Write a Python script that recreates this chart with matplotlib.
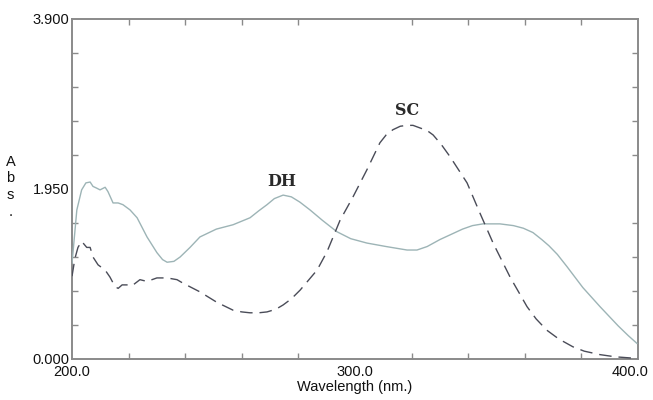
import matplotlib as mpl
mpl.use("Agg")
import matplotlib.pyplot as plt
from matplotlib.ticker import MultipleLocator, FixedLocator
from matplotlib.transforms import ScaledTranslation

# DH spectrum (solid)
DH_WL = [200.0, 201.7, 203.4, 204.9, 206.4, 207.4, 208.7, 209.9, 211.7, 212.7,
         214.5, 216.3, 218.0, 220.5, 223.0, 226.5, 230.0, 232.0, 233.6, 236.0,
         238.2, 241.7, 245.2, 251.0, 256.9, 262.9, 266.0, 268.9, 271.5, 274.6,
         277.5, 280.5, 284.1, 288.5, 293.6, 298.5, 304.2, 311.0, 318.4, 321.9,
         325.5, 330.0, 334.0, 338.0, 341.5, 345.2, 351.2, 356.0, 359.5, 362.9,
         366.0, 368.5, 371.5, 374.9, 380.5, 386.6, 393.0, 396.5, 399.6]
DH_ABS = [1.10, 1.71, 1.94, 2.02, 2.03, 1.98, 1.96, 1.94, 1.97, 1.92,
          1.79, 1.79, 1.77, 1.71, 1.62, 1.40, 1.22, 1.14, 1.11, 1.12,
          1.17, 1.28, 1.40, 1.49, 1.54, 1.62, 1.70, 1.77, 1.84, 1.88,
          1.86, 1.80, 1.71, 1.59, 1.46, 1.38, 1.33, 1.29, 1.25, 1.25,
          1.29, 1.37, 1.43, 1.49, 1.53, 1.55, 1.55, 1.53, 1.50, 1.45,
          1.37, 1.30, 1.20, 1.06, 0.82, 0.60, 0.38, 0.27, 0.18]

# SC spectrum (dashed)
SC_WL = [200.0, 201.0, 202.1, 203.4, 205.2, 206.4, 207.4, 209.2, 211.7, 213.4,
         215.2, 216.3, 217.7, 219.4, 221.2, 224.0, 226.5, 230.0, 233.6, 237.1,
         239.2, 245.2, 251.2, 256.9, 260.0, 262.9, 266.0, 268.9, 272.0, 274.6,
         277.5, 280.6, 286.6, 290.1, 294.7, 299.3, 304.2, 308.8, 311.0, 313.4,
         316.0, 318.4, 320.5, 323.0, 325.5, 327.6, 330.5, 333.6, 339.6, 344.2,
         348.8, 354.8, 360.8, 364.0, 367.8, 372.0, 377.0, 381.0, 386.6, 392.0,
         398.2, 400.0]
SC_ABS = [0.95, 1.15, 1.28, 1.35, 1.28, 1.28, 1.17, 1.08, 1.02, 0.94,
          0.83, 0.81, 0.85, 0.85, 0.84, 0.91, 0.89, 0.93, 0.93, 0.91,
          0.87, 0.77, 0.65, 0.56, 0.54, 0.53, 0.53, 0.54, 0.57, 0.62,
          0.69, 0.79, 1.02, 1.23, 1.59, 1.86, 2.17, 2.48, 2.57, 2.63,
          2.67, 2.68, 2.68, 2.65, 2.62, 2.57, 2.46, 2.32, 2.02, 1.67,
          1.33, 0.94, 0.60, 0.46, 0.33, 0.23, 0.14, 0.09, 0.05, 0.025,
          0.01, 0.01]

X_LABELS = [200.0, 300.0, 400.0]
Y_LABELS = [0.0, 1.95, 3.9]

AXIS = "#8a8a8a"
TEXT = "#111111"

fig = plt.figure(figsize=(6.53, 4.0), dpi=100)
ax = fig.add_axes([0.1103, 0.1025, 0.8667, 0.85])

ax.plot(DH_WL, DH_ABS, color="#9db4b6", linewidth=1.0, zorder=3)
ax.plot(SC_WL, SC_ABS, color="#4a4c58", linewidth=1.0, dashes=(9, 5), zorder=3)

ax.set_xlim(200, 400)
ax.set_ylim(0, 3.9)

for side in ax.spines.values():
    side.set_color(AXIS)
    side.set_linewidth(1.4)

ax.xaxis.set_major_locator(FixedLocator(X_LABELS))
ax.xaxis.set_minor_locator(MultipleLocator(20))
ax.yaxis.set_major_locator(FixedLocator(Y_LABELS))
ax.yaxis.set_minor_locator(MultipleLocator(0.39))
ax.set_xticklabels([f"{v:.1f}" for v in X_LABELS])
ax.set_yticklabels([f"{v:.3f}" for v in Y_LABELS])
ax.tick_params(which="both", direction="in", top=True, right=True,
               color=AXIS, width=1.0)
ax.tick_params(which="major", length=0, labelsize=10.5, labelcolor=TEXT)
ax.tick_params(axis="x", which="major", pad=4)
ax.tick_params(axis="y", which="major", pad=2)
ax.tick_params(which="minor", length=4)

for lab in ax.get_xticklabels() + ax.get_yticklabels():
    lab.set_family("Liberation Sans")
# the last wavelength label sits a little inside the frame
last = ax.get_xticklabels()[-1]
last.set_transform(last.get_transform() + ScaledTranslation(-0.08, 0, fig.dpi_scale_trans))

ax.set_xlabel("Wavelength (nm.)", fontsize=10.5, color=TEXT, labelpad=1,
              family="Liberation Sans")

for i, ch in enumerate(["A", "b", "s", "."]):
    fig.text(0.016, 1 - (162 + i * 16.5) / 400, ch, fontsize=10.5, color=TEXT,
             ha="center", va="center", family="Liberation Sans")

ax.text(274.0, 2.04, "DH", fontsize=11.5, family="DejaVu Serif",
        fontweight="bold", color="#2a2a2a", ha="center", va="center")
ax.text(318.5, 2.85, "SC", fontsize=11.5, family="DejaVu Serif",
        fontweight="bold", color="#2a2a2a", ha="center", va="center")

fig.savefig("out.png", dpi=100, facecolor="white")
